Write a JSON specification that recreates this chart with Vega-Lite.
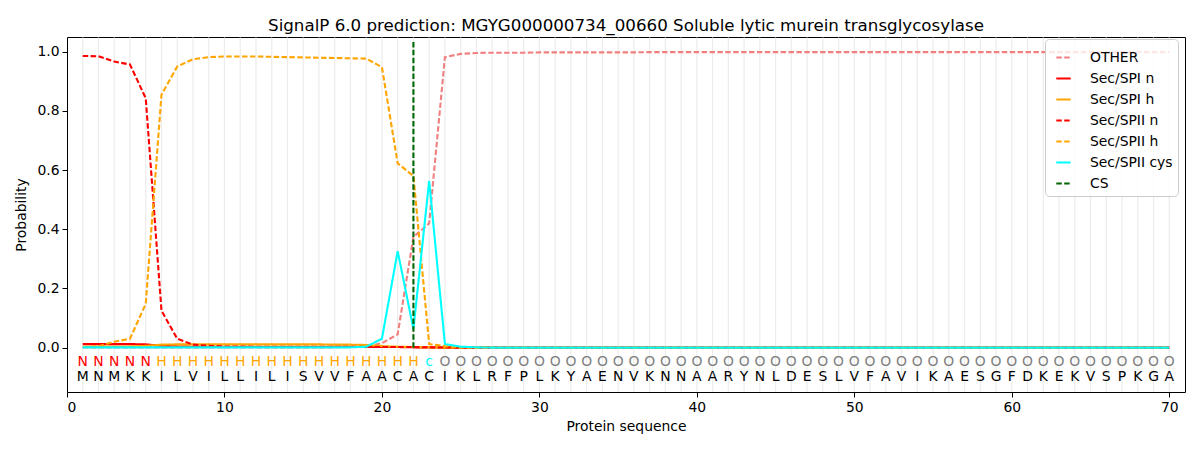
{
  "$schema": "https://vega.github.io/schema/vega-lite/v6.json",
  "autosize": {"type": "none"},
  "width": 1118,
  "height": 355,
  "padding": {"left": 67, "top": 37, "right": 15, "bottom": 58},
  "background": "white",
  "config": {
    "font": "DejaVu Sans",
    "view": {"stroke": "black", "strokeWidth": 1},
    "axis": {"labelFont": "DejaVu Sans", "labelFontSize": 13.9, "labelColor": "black", "tickColor": "black", "tickSize": 5, "domain": false, "grid": false, "titleFont": "DejaVu Sans", "titleFontSize": 13.9, "titleFontWeight": "normal", "titleColor": "black"},
    "legend": {"labelFont": "DejaVu Sans", "labelFontSize": 13.9, "labelColor": "black"},
    "title": {"font": "DejaVu Sans", "fontSize": 16.7, "fontWeight": "normal", "color": "black"}
  },
  "title": {"text": "SignalP 6.0 prediction: MGYG000000734_00660 Soluble lytic murein transglycosylase", "offset": 2, "anchor": "middle"},
  "data": {"values": [
    {"pos":1,"aa":"M","lab":"N","o":0.001,"n1":0.012,"h1":0.003,"n2":0.986,"h2":0.002,"c":0.001},
    {"pos":2,"aa":"N","lab":"N","o":0.001,"n1":0.012,"h1":0.003,"n2":0.985,"h2":0.005,"c":0.001},
    {"pos":3,"aa":"M","lab":"N","o":0.001,"n1":0.012,"h1":0.004,"n2":0.967,"h2":0.02,"c":0.001},
    {"pos":4,"aa":"K","lab":"N","o":0.001,"n1":0.012,"h1":0.004,"n2":0.957,"h2":0.03,"c":0.001},
    {"pos":5,"aa":"K","lab":"N","o":0.001,"n1":0.011,"h1":0.006,"n2":0.843,"h2":0.148,"c":0.001},
    {"pos":6,"aa":"I","lab":"H","o":0.001,"n1":0.006,"h1":0.01,"n2":0.125,"h2":0.855,"c":0.001},
    {"pos":7,"aa":"L","lab":"H","o":0.001,"n1":0.004,"h1":0.011,"n2":0.03,"h2":0.95,"c":0.001},
    {"pos":8,"aa":"V","lab":"H","o":0.001,"n1":0.003,"h1":0.011,"n2":0.01,"h2":0.975,"c":0.001},
    {"pos":9,"aa":"I","lab":"H","o":0.001,"n1":0.002,"h1":0.011,"n2":0.006,"h2":0.982,"c":0.001},
    {"pos":10,"aa":"L","lab":"H","o":0.001,"n1":0.002,"h1":0.011,"n2":0.004,"h2":0.984,"c":0.001},
    {"pos":11,"aa":"L","lab":"H","o":0.001,"n1":0.002,"h1":0.011,"n2":0.004,"h2":0.984,"c":0.001},
    {"pos":12,"aa":"I","lab":"H","o":0.001,"n1":0.002,"h1":0.011,"n2":0.003,"h2":0.984,"c":0.001},
    {"pos":13,"aa":"L","lab":"H","o":0.001,"n1":0.002,"h1":0.011,"n2":0.003,"h2":0.983,"c":0.001},
    {"pos":14,"aa":"I","lab":"H","o":0.001,"n1":0.002,"h1":0.011,"n2":0.003,"h2":0.982,"c":0.001},
    {"pos":15,"aa":"S","lab":"H","o":0.001,"n1":0.002,"h1":0.011,"n2":0.003,"h2":0.981,"c":0.001},
    {"pos":16,"aa":"V","lab":"H","o":0.001,"n1":0.002,"h1":0.011,"n2":0.003,"h2":0.98,"c":0.001},
    {"pos":17,"aa":"V","lab":"H","o":0.001,"n1":0.002,"h1":0.01,"n2":0.003,"h2":0.979,"c":0.001},
    {"pos":18,"aa":"F","lab":"H","o":0.002,"n1":0.002,"h1":0.01,"n2":0.003,"h2":0.978,"c":0.001},
    {"pos":19,"aa":"A","lab":"H","o":0.003,"n1":0.002,"h1":0.009,"n2":0.002,"h2":0.977,"c":0.003},
    {"pos":20,"aa":"A","lab":"H","o":0.015,"n1":0.002,"h1":0.005,"n2":0.002,"h2":0.948,"c":0.03},
    {"pos":21,"aa":"C","lab":"H","o":0.045,"n1":0.002,"h1":0.003,"n2":0.002,"h2":0.623,"c":0.326},
    {"pos":22,"aa":"A","lab":"H","o":0.374,"n1":0.001,"h1":0.002,"n2":0.002,"h2":0.58,"c":0.063},
    {"pos":23,"aa":"C","lab":"c","o":0.42,"n1":0.001,"h1":0.001,"n2":0.001,"h2":0.012,"c":0.564},
    {"pos":24,"aa":"I","lab":"O","o":0.982,"n1":0,"h1":0,"n2":0.001,"h2":0.005,"c":0.012},
    {"pos":25,"aa":"K","lab":"O","o":0.993,"n1":0,"h1":0,"n2":0,"h2":0.001,"c":0.003},
    {"pos":26,"aa":"L","lab":"O","o":0.996,"n1":0,"h1":0,"n2":0,"h2":0,"c":0.001},
    {"pos":27,"aa":"R","lab":"O","o":0.997,"n1":0,"h1":0,"n2":0,"h2":0,"c":0},
    {"pos":28,"aa":"F","lab":"O","o":0.997,"n1":0,"h1":0,"n2":0,"h2":0,"c":0},
    {"pos":29,"aa":"P","lab":"O","o":0.997,"n1":0,"h1":0,"n2":0,"h2":0,"c":0},
    {"pos":30,"aa":"L","lab":"O","o":0.998,"n1":0,"h1":0,"n2":0,"h2":0,"c":0},
    {"pos":31,"aa":"K","lab":"O","o":0.998,"n1":0,"h1":0,"n2":0,"h2":0,"c":0},
    {"pos":32,"aa":"Y","lab":"O","o":0.998,"n1":0,"h1":0,"n2":0,"h2":0,"c":0},
    {"pos":33,"aa":"A","lab":"O","o":0.998,"n1":0,"h1":0,"n2":0,"h2":0,"c":0},
    {"pos":34,"aa":"E","lab":"O","o":0.998,"n1":0,"h1":0,"n2":0,"h2":0,"c":0},
    {"pos":35,"aa":"N","lab":"O","o":0.998,"n1":0,"h1":0,"n2":0,"h2":0,"c":0},
    {"pos":36,"aa":"V","lab":"O","o":0.998,"n1":0,"h1":0,"n2":0,"h2":0,"c":0},
    {"pos":37,"aa":"K","lab":"O","o":0.999,"n1":0,"h1":0,"n2":0,"h2":0,"c":0},
    {"pos":38,"aa":"N","lab":"O","o":0.999,"n1":0,"h1":0,"n2":0,"h2":0,"c":0},
    {"pos":39,"aa":"N","lab":"O","o":0.999,"n1":0,"h1":0,"n2":0,"h2":0,"c":0},
    {"pos":40,"aa":"A","lab":"O","o":0.999,"n1":0,"h1":0,"n2":0,"h2":0,"c":0},
    {"pos":41,"aa":"A","lab":"O","o":0.999,"n1":0,"h1":0,"n2":0,"h2":0,"c":0},
    {"pos":42,"aa":"R","lab":"O","o":0.999,"n1":0,"h1":0,"n2":0,"h2":0,"c":0},
    {"pos":43,"aa":"Y","lab":"O","o":0.999,"n1":0,"h1":0,"n2":0,"h2":0,"c":0},
    {"pos":44,"aa":"N","lab":"O","o":0.999,"n1":0,"h1":0,"n2":0,"h2":0,"c":0},
    {"pos":45,"aa":"L","lab":"O","o":0.999,"n1":0,"h1":0,"n2":0,"h2":0,"c":0},
    {"pos":46,"aa":"D","lab":"O","o":0.999,"n1":0,"h1":0,"n2":0,"h2":0,"c":0},
    {"pos":47,"aa":"E","lab":"O","o":0.999,"n1":0,"h1":0,"n2":0,"h2":0,"c":0},
    {"pos":48,"aa":"S","lab":"O","o":0.999,"n1":0,"h1":0,"n2":0,"h2":0,"c":0},
    {"pos":49,"aa":"L","lab":"O","o":0.999,"n1":0,"h1":0,"n2":0,"h2":0,"c":0},
    {"pos":50,"aa":"V","lab":"O","o":0.999,"n1":0,"h1":0,"n2":0,"h2":0,"c":0},
    {"pos":51,"aa":"F","lab":"O","o":0.999,"n1":0,"h1":0,"n2":0,"h2":0,"c":0},
    {"pos":52,"aa":"A","lab":"O","o":0.999,"n1":0,"h1":0,"n2":0,"h2":0,"c":0},
    {"pos":53,"aa":"V","lab":"O","o":0.999,"n1":0,"h1":0,"n2":0,"h2":0,"c":0},
    {"pos":54,"aa":"I","lab":"O","o":0.999,"n1":0,"h1":0,"n2":0,"h2":0,"c":0},
    {"pos":55,"aa":"K","lab":"O","o":0.999,"n1":0,"h1":0,"n2":0,"h2":0,"c":0},
    {"pos":56,"aa":"A","lab":"O","o":0.999,"n1":0,"h1":0,"n2":0,"h2":0,"c":0},
    {"pos":57,"aa":"E","lab":"O","o":0.999,"n1":0,"h1":0,"n2":0,"h2":0,"c":0},
    {"pos":58,"aa":"S","lab":"O","o":0.999,"n1":0,"h1":0,"n2":0,"h2":0,"c":0},
    {"pos":59,"aa":"G","lab":"O","o":0.999,"n1":0,"h1":0,"n2":0,"h2":0,"c":0},
    {"pos":60,"aa":"F","lab":"O","o":0.999,"n1":0,"h1":0,"n2":0,"h2":0,"c":0},
    {"pos":61,"aa":"D","lab":"O","o":0.999,"n1":0,"h1":0,"n2":0,"h2":0,"c":0},
    {"pos":62,"aa":"K","lab":"O","o":0.999,"n1":0,"h1":0,"n2":0,"h2":0,"c":0},
    {"pos":63,"aa":"E","lab":"O","o":0.999,"n1":0,"h1":0,"n2":0,"h2":0,"c":0},
    {"pos":64,"aa":"K","lab":"O","o":0.999,"n1":0,"h1":0,"n2":0,"h2":0,"c":0},
    {"pos":65,"aa":"V","lab":"O","o":0.999,"n1":0,"h1":0,"n2":0,"h2":0,"c":0},
    {"pos":66,"aa":"S","lab":"O","o":0.999,"n1":0,"h1":0,"n2":0,"h2":0,"c":0},
    {"pos":67,"aa":"P","lab":"O","o":0.999,"n1":0,"h1":0,"n2":0,"h2":0,"c":0},
    {"pos":68,"aa":"K","lab":"O","o":0.999,"n1":0,"h1":0,"n2":0,"h2":0,"c":0},
    {"pos":69,"aa":"G","lab":"O","o":0.999,"n1":0,"h1":0,"n2":0,"h2":0,"c":0},
    {"pos":70,"aa":"A","lab":"O","o":0.999,"n1":0,"h1":0,"n2":0,"h2":0,"c":0}
  ]},
  "encoding": {
    "x": {"field": "pos", "type": "quantitative", "scale": {"domain": [0, 71], "nice": false, "zero": false},
          "axis": {"values": [0,10,20,30,40,50,60,70], "format": "d", "title": "Protein sequence", "titlePadding": 6, "labelPadding": 3}}
  },
  "layer": [
    {
      "mark": {"type": "rule", "color": "#ececec", "strokeWidth": 1.2},
      "encoding": {"y": {"datum": -0.148}, "y2": {"datum": 1.048}}
    },
    {
      "transform": [{"fold": ["o","n1","h1","n2","h2","c"], "as": ["series","prob"]}],
      "mark": {"type": "line", "strokeWidth": 2.1},
      "encoding": {
        "y": {"field": "prob", "type": "quantitative", "scale": {"domain": [-0.15, 1.05], "nice": false, "zero": false},
              "axis": {"values": [0,0.2,0.4,0.6,0.8,1.0], "format": ".1f", "title": "Probability", "titlePadding": 8, "labelPadding": 3}},
        "color": {"field": "series", "type": "nominal",
          "scale": {"domain": ["o","n1","h1","n2","h2","c","cs"], "range": ["#f08080","#ff0000","#ffa500","#ff0000","#ffa500","#00ffff","#006400"]},
          "legend": {"title": null, "orient": "none", "legendX": 978, "legendY": 2, "symbolType": "M-0.6,0L0.6,0", "symbolSize": 576, "symbolStrokeWidth": 2.1,
                     "labelExpr": "{'o':'OTHER','n1':'Sec/SPI n','h1':'Sec/SPI h','n2':'Sec/SPII n','h2':'Sec/SPII h','c':'Sec/SPII cys','cs':'CS'}[datum.label]",
                     "fillColor": "rgba(255,255,255,0.8)", "strokeColor": "#cccccc", "cornerRadius": 4, "padding": 5, "rowPadding": -3, "labelOffset": 13}},
        "strokeDash": {"field": "series", "type": "nominal",
          "scale": {"domain": ["o","n1","h1","n2","h2","c","cs"], "range": [[5.5,2.4],[1,0],[1,0],[5.5,2.4],[5.5,2.4],[1,0],[5.5,2.4]]},
          "legend": {"title": null, "orient": "none", "legendX": 978, "legendY": 2, "symbolType": "M-0.6,0L0.6,0", "symbolSize": 576, "symbolStrokeWidth": 2.1,
                     "labelExpr": "{'o':'OTHER','n1':'Sec/SPI n','h1':'Sec/SPI h','n2':'Sec/SPII n','h2':'Sec/SPII h','c':'Sec/SPII cys','cs':'CS'}[datum.label]",
                     "fillColor": "rgba(255,255,255,0.8)", "strokeColor": "#cccccc", "cornerRadius": 4, "padding": 5, "rowPadding": -3, "labelOffset": 13}}
      }
    },
    {
      "data": {"values": [{"series": "cs", "site": 22}]},
      "mark": {"type": "rule", "strokeWidth": 2.1},
      "encoding": {
        "x": {"field": "site", "type": "quantitative"},
        "y": {"datum": 0},
        "y2": {"datum": 1.037},
        "color": {"field": "series", "type": "nominal"},
        "strokeDash": {"field": "series", "type": "nominal"}
      }
    },
    {
      "mark": {"type": "text", "fontSize": 13.9, "font": "DejaVu Sans", "baseline": "middle", "align": "center"},
      "encoding": {
        "y": {"datum": -0.049},
        "text": {"field": "lab"},
        "color": {"condition": [
          {"test": "datum.lab === 'N'", "value": "#ff0000"},
          {"test": "datum.lab === 'H'", "value": "#ffa500"},
          {"test": "datum.lab === 'c'", "value": "#00ffff"}
        ], "value": "#808080"}
      }
    },
    {
      "mark": {"type": "text", "fontSize": 13.9, "font": "DejaVu Sans", "baseline": "middle", "align": "center", "color": "black"},
      "encoding": {
        "y": {"datum": -0.1},
        "text": {"field": "aa"}
      }
    }
  ]
}
